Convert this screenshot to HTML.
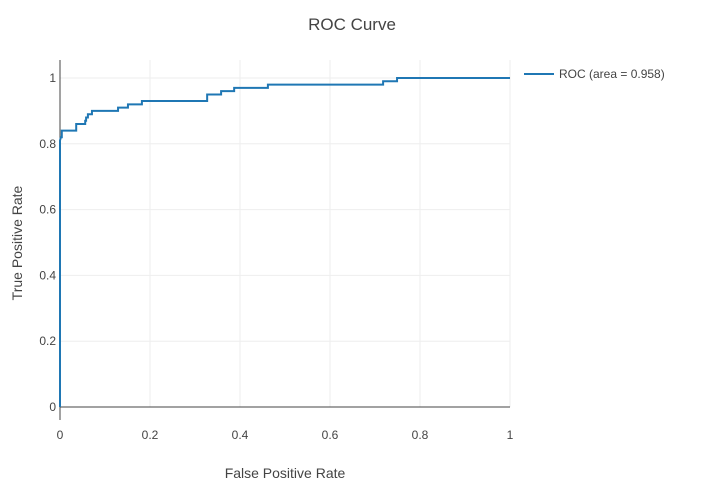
<!DOCTYPE html>
<html><head><meta charset="utf-8"><style>
body{margin:0;background:#fff;font-family:"Liberation Sans",sans-serif}
svg text{font-family:"Liberation Sans",sans-serif;fill:#444}
</style></head><body>
<svg width="704" height="486">
<text x="352" y="30" text-anchor="middle" font-size="17">ROC Curve</text>
<g id="grid"></g>
<g id="axes"></g>
<path id="curve" fill="none" stroke="#1f77b4" stroke-width="2"/>
<text x="285" y="478" text-anchor="middle" font-size="14">False Positive Rate</text>
<text transform="translate(22,243) rotate(-90)" text-anchor="middle" font-size="14">True Positive Rate</text>
<g>
<line x1="524" y1="74" x2="554" y2="74" stroke="#1f77b4" stroke-width="2"/>
<text x="559" y="78" font-size="12">ROC (area = 0.958)</text>
</g>
</svg>
<script>
const fpr=[0,0,0.002,0.004,0.004,0.036,0.036,0.056,0.056,0.058,0.058,0.062,0.062,0.071,0.071,0.129,0.129,0.151,0.151,0.182,0.182,0.327,0.327,0.358,0.358,0.387,0.387,0.462,0.462,0.718,0.718,0.749,0.749,1];
const tpr=[0,0.81,0.82,0.82,0.84,0.84,0.86,0.86,0.87,0.87,0.88,0.88,0.89,0.89,0.90,0.90,0.91,0.91,0.92,0.92,0.93,0.93,0.95,0.95,0.96,0.96,0.97,0.97,0.98,0.98,0.99,0.99,1,1];
const xTicks=[0,0.2,0.4,0.6,0.8,1];
const yTicks=[0,0.2,0.4,0.6,0.8,1];
const X=v=>60+v*450, Y=v=>407-v*329;
const ns="http://www.w3.org/2000/svg";
const grid=document.getElementById('grid'), axes=document.getElementById('axes');
function mk(tag,attrs,parent){const e=document.createElementNS(ns,tag);for(const k in attrs)e.setAttribute(k,attrs[k]);parent.appendChild(e);return e;}
xTicks.forEach(t=>{
 if(t>0){const g=mk('line',{x1:X(t),x2:X(t),y1:60,y2:407,stroke:'#eee','stroke-width':1},grid);
 
 }
 const l=mk('text',{x:X(t),y:439,'text-anchor':'middle','font-size':12},axes);l.textContent=t;
 
 
});
yTicks.forEach(t=>{
 if(t>0){const g=mk('line',{x1:60,x2:510,y1:Y(t),y2:Y(t),stroke:'#eee','stroke-width':1},grid);
 
 }
 const l=mk('text',{x:56,y:Y(t)+4,'text-anchor':'end','font-size':12},axes);l.textContent=t;
 
 
});
const xa=mk('line',{x1:60,x2:510,y1:407,y2:407,stroke:'#444'},axes);


const ya=mk('line',{x1:60,x2:60,y1:60,y2:420,stroke:'#444'},axes);


document.getElementById('curve').setAttribute('d',fpr.map((f,i)=>(i?'L':'M')+X(f)+','+Y(tpr[i])).join(''));
</script>
</body></html>
